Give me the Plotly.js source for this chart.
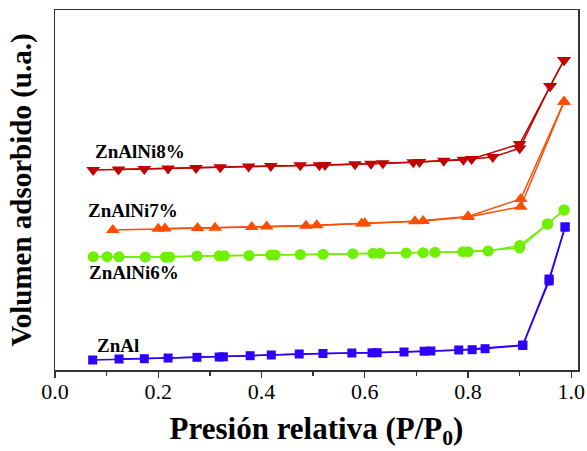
<!DOCTYPE html>
<html>
<head>
<meta charset="utf-8">
<script src="https://cdn.plot.ly/plotly-3.0.1.min.js"></script>
<style>html,body{margin:0;padding:0;background:#fff}#chart{width:587px;height:451px}</style>
</head>
<body>
<div id="chart"></div>
<script>
// ZnAl (blue squares)
const znalAdsX = [0.073,0.173,0.275,0.378,0.473,0.575,0.676,0.782,0.906,0.957,0.988];
const znalAdsY = [10,11.3,12.7,14.3,16,17,18,20,25,91,143];
const znalDesX = [0.988,0.957,0.906,0.833,0.808,0.728,0.715,0.624,0.614,0.519,0.419,0.326,0.318,0.219,0.124];
const znalDesY = [143,89,24.5,21.3,20.3,19,18.8,17.3,17.2,16.5,15,13.2,13,12,11];
// ZnAlNi6% (green circles)
const ni6AdsX = [0.074,0.124,0.214,0.275,0.318,0.376,0.418,0.475,0.577,0.616,0.680,0.736,0.790,0.900,0.954,0.986];
const ni6AdsY = [113.3,113.2,113,114,114.2,114.5,115,115.5,116.3,116.7,117,117.7,118.3,122,146,160];
const ni6DesX = [0.986,0.954,0.900,0.839,0.800,0.713,0.630,0.519,0.426,0.328,0.222,0.175,0.101];
const ni6DesY = [160,146,124.5,119,118.3,117.3,116.7,115.7,115,114.2,113,113,113.3];
// ZnAlNi7% (orange triangles up)
const ni7AdsX = [0.112,0.200,0.310,0.410,0.507,0.600,0.713,0.800,0.902,0.986];
const ni7AdsY = [140,141.3,142.3,143.5,144.7,146.7,149,153,163.3,268.3];
const ni7DesX = [0.986,0.902,0.800,0.697,0.594,0.486,0.381,0.276,0.213];
const ni7DesY = [268.3,171,153.5,148.7,146.5,144.3,143,142,141.5];
// ZnAlNi8% (red triangles down)
const ni8AdsX = [0.074,0.173,0.273,0.375,0.475,0.523,0.612,0.706,0.791,0.848,0.900,0.959,0.986];
const ni8AdsY = [200,201,202,203.5,204.7,205,206.3,208,210.3,213,221.7,284,310];
const ni8DesX = [0.986,0.959,0.900,0.807,0.753,0.694,0.635,0.581,0.512,0.418,0.320,0.219,0.123];
const ni8DesY = [310,284,226,211,209.3,207.8,206.7,205.7,204.8,204,202.7,201.5,200.5];

const labels = ['ZnAl','ZnAlNi6%','ZnAlNi7%','ZnAlNi8%'];
const labelX = [0.078,0.062,0.060,0.073];
const labelY = [25,98,160,219];

const xTickVals = [0,0.2,0.4,0.6,0.8,1.0];
const xTickText = ['0.0','0.2','0.4','0.6','0.8','1.0'];

function tr(x,y,color,symbol,size){
  return {x:x,y:y,type:'scatter',mode:'lines+markers',
    line:{color:color,width:1.5},
    marker:{color:color,symbol:symbol,size:size,line:{width:0}},
    showlegend:false,hoverinfo:'skip'};
}
const blue='#2E00FF', green='#6EF000', orange='#FF4D00', red='#C20000';
const data = [
  tr(znalAdsX,znalAdsY,blue,'square',9), tr(znalDesX,znalDesY,blue,'square',9),
  tr(ni6AdsX,ni6AdsY,green,'circle',11), tr(ni6DesX,ni6DesY,green,'circle',11),
  tr(ni7AdsX,ni7AdsY,orange,'triangle-up',12), tr(ni7DesX,ni7DesY,orange,'triangle-up',12),
  tr(ni8AdsX,ni8AdsY,red,'triangle-down',12), tr(ni8DesX,ni8DesY,red,'triangle-down',12)
];
const serif = 'Liberation Serif';
const layout = {
  width:587,height:451,
  margin:{l:55,r:9,t:10,b:81},
  paper_bgcolor:'#fff',plot_bgcolor:'#fff',
  font:{family:serif,color:'#000'},
  xaxis:{range:[0,1.013],tickvals:xTickVals,ticktext:xTickText,
    ticks:'outside',ticklen:6,tickwidth:1.3,tickcolor:'#333',ticklabelstandoff:-5,
    minor:{ticks:'outside',dtick:0.1,tick0:0,ticklen:4,tickwidth:1.3,tickcolor:'#333',showgrid:false},
    showline:true,mirror:true,linecolor:'#333',linewidth:1.5,showgrid:false,zeroline:false,
    tickfont:{family:serif,size:22,color:'#000'},
    title:{text:'<b>Presión relativa (P/P<sub>0</sub>)</b>',font:{family:serif,size:31,color:'#000'},standoff:14}},
  yaxis:{range:[0,360],showticklabels:false,ticks:'',showline:true,mirror:true,
    linecolor:'#333',linewidth:1.5,showgrid:false,zeroline:false,
    title:{text:'<b>Volumen adsorbido (u.a.)</b>',font:{family:serif,size:29,color:'#000'},standoff:13}},
  annotations: labels.map((t,i)=>({x:labelX[i],y:labelY[i],xref:'x',yref:'y',text:'<b>'+t+'</b>',
    showarrow:false,xanchor:'left',yanchor:'middle',font:{family:serif,size:19,color:'#000'}}))
};
Plotly.newPlot('chart',data,layout,{staticPlot:true,displayModeBar:false});
</script>
</body>
</html>
